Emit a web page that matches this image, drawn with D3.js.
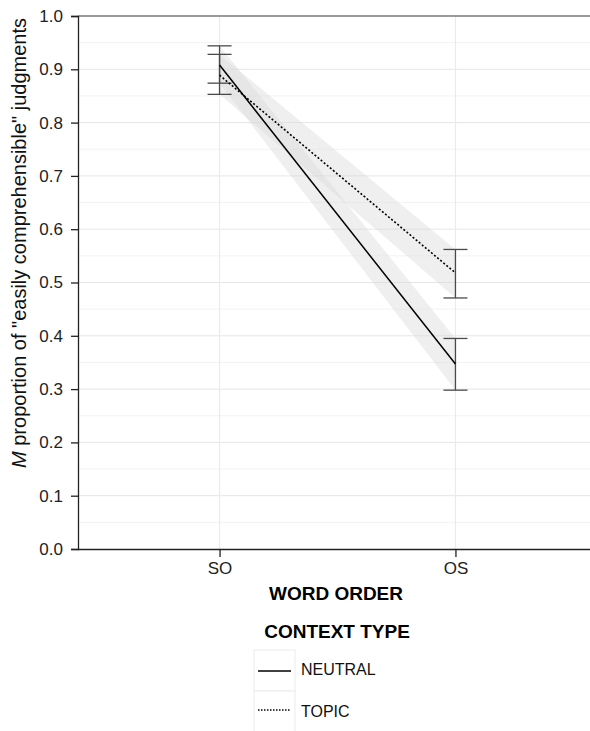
<!DOCTYPE html>
<html>
<head>
<meta charset="utf-8">
<script src="https://cdn.jsdelivr.net/npm/d3@7"></script>
<style>
  body { margin: 0; background: #fff; }
  svg { display: block; font-family: "Liberation Sans", Arial, sans-serif; }
</style>
</head>
<body>
<svg id="chart" width="590" height="731"></svg>
<script>
// datos
const wordOrder = ["SO", "OS"];
const contextTypes = ["NEUTRAL", "TOPIC"];
const neutralMean = [0.908, 0.347];
const neutralLow = [0.874, 0.298];
const neutralHigh = [0.944, 0.395];
const topicMean = [0.889, 0.518];
const topicLow = [0.853, 0.471];
const topicHigh = [0.928, 0.562];
const yTicks = [0, 0.1, 0.2, 0.3, 0.4, 0.5, 0.6, 0.7, 0.8, 0.9, 1.0];

const series = [
  { name: "NEUTRAL", mean: neutralMean, low: neutralLow, high: neutralHigh, dash: null },
  { name: "TOPIC", mean: topicMean, low: topicLow, high: topicHigh, dash: "2,2" }
];

const svg = d3.select("#chart");
const pLeft = 78, pRight = 597, pTop = 16, pBottom = 549;

const x = d3.scaleLinear().domain([0.4, 2.6]).range([pLeft, pRight]);
const y = d3.scaleLinear().domain([0, 1]).range([pBottom, pTop]);
const xPos = i => x(i + 1);

// grilla
const grid = svg.append("g");
grid.selectAll(".minor")
    .data(d3.range(0.05, 1, 0.1))
    .enter().append("line")
    .attr("x1", pLeft).attr("x2", 590)
    .attr("y1", d => y(d)).attr("y2", d => y(d))
    .attr("stroke", "#f3f3f3").attr("stroke-width", 1);
grid.selectAll(".major")
    .data(yTicks.slice(1, -1))
    .enter().append("line")
    .attr("x1", pLeft).attr("x2", 590)
    .attr("y1", d => y(d)).attr("y2", d => y(d))
    .attr("stroke", "#e6e6e6").attr("stroke-width", 1);
grid.selectAll(".vmajor")
    .data(wordOrder)
    .enter().append("line")
    .attr("x1", (d, i) => xPos(i)).attr("x2", (d, i) => xPos(i))
    .attr("y1", pTop).attr("y2", pBottom)
    .attr("stroke", "#ebebeb").attr("stroke-width", 1.2);

// bandas
const area = d3.area()
    .x((d, i) => xPos(i))
    .y0(d => y(d[0]))
    .y1(d => y(d[1]));
svg.selectAll(".band")
    .data(series)
    .enter().append("path")
    .attr("d", s => area(s.low.map((l, i) => [l, s.high[i]])))
    .attr("fill", "#d9d9d9").attr("fill-opacity", 0.42);

// barras de error
series.forEach(s => {
  const g = svg.append("g").attr("stroke", "#4a4a4a").attr("stroke-width", 1.3);
  wordOrder.forEach((w, i) => {
    const cx = xPos(i);
    g.append("line").attr("x1", cx).attr("x2", cx).attr("y1", y(s.low[i])).attr("y2", y(s.high[i]));
    g.append("line").attr("x1", cx - 12).attr("x2", cx + 12).attr("y1", y(s.low[i])).attr("y2", y(s.low[i]));
    g.append("line").attr("x1", cx - 12).attr("x2", cx + 12).attr("y1", y(s.high[i])).attr("y2", y(s.high[i]));
  });
});

// líneas
const line = d3.line().x((d, i) => xPos(i)).y(d => y(d));
svg.selectAll(".series")
    .data(series)
    .enter().append("path")
    .attr("d", s => line(s.mean))
    .attr("fill", "none")
    .attr("stroke", "#000")
    .attr("stroke-width", s => s.dash ? 1.6 : 1.5)
    .attr("stroke-dasharray", s => s.dash);

// borde superior
svg.append("line").attr("x1", pLeft).attr("x2", 590).attr("y1", pTop).attr("y2", pTop)
    .attr("stroke", "#7a7a7a").attr("stroke-width", 1.5);

// eje y
const yAxis = svg.append("g").attr("transform", `translate(${pLeft},0)`)
    .call(d3.axisLeft(y).tickValues(yTicks).tickFormat(d3.format(".1f")).tickSize(7).tickPadding(8));
yAxis.select(".domain").attr("stroke", "#222").attr("stroke-width", 1.3);
yAxis.selectAll(".tick line").attr("stroke", "#222").attr("stroke-width", 1.3);
yAxis.selectAll("text").attr("font-size", 17).attr("fill", "#222").attr("font-family", "Liberation Sans, Arial, sans-serif");

// eje x
const xAxis = svg.append("g").attr("transform", `translate(0,${pBottom})`)
    .call(d3.axisBottom(x).tickValues([1, 2]).tickFormat((d, i) => wordOrder[i]).tickSize(8).tickPadding(5).tickSizeOuter(0));
xAxis.select(".domain").attr("d", `M${pLeft},0.5H590`).attr("stroke", "#222").attr("stroke-width", 1.3);
xAxis.selectAll(".tick line").attr("stroke", "#222").attr("stroke-width", 1.3);
xAxis.selectAll("text").attr("font-size", 17).attr("fill", "#222").attr("font-family", "Liberation Sans, Arial, sans-serif");

// títulos
svg.append("text")
    .attr("x", 336).attr("y", 600)
    .attr("text-anchor", "middle")
    .attr("font-size", 19).attr("font-weight", "bold")
    .text("WORD ORDER");

const yt = svg.append("text")
    .attr("transform", "translate(26,243) rotate(-90)")
    .attr("text-anchor", "middle")
    .attr("font-size", 20).attr("fill", "#111");
yt.append("tspan").attr("font-style", "italic").text("M");
yt.append("tspan").text(" proportion of \"easily comprehensible\" judgments");

// leyenda
svg.append("text")
    .attr("x", 337).attr("y", 638)
    .attr("text-anchor", "middle")
    .attr("font-size", 19).attr("font-weight", "bold")
    .text("CONTEXT TYPE");

const keys = svg.selectAll(".key")
    .data(series)
    .enter().append("g")
    .attr("transform", (d, i) => `translate(254,${650 + i * 41})`);
keys.append("rect")
    .attr("width", 41).attr("height", 41)
    .attr("fill", "#fff").attr("stroke", "#ececec");
keys.append("line")
    .attr("x1", 4).attr("x2", 37).attr("y1", (d, i) => 21 - i * 2).attr("y2", (d, i) => 21 - i * 2)
    .attr("stroke", "#000").attr("stroke-width", d => d.dash ? 1.4 : 1.5)
    .attr("stroke-dasharray", d => d.dash ? "1.5,1.5" : null);
keys.append("text")
    .attr("x", 47).attr("y", (d, i) => 25 + i * 0.7)
    .attr("font-size", 16).attr("fill", "#111")
    .text((d, i) => contextTypes[i]);
</script>
</body>
</html>
